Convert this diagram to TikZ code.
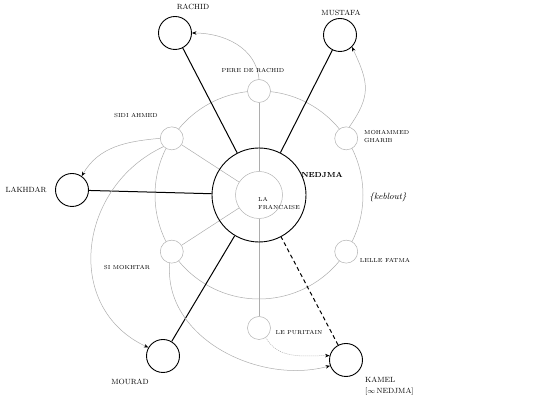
\documentclass[tikz,border=0pt]{standalone}
\usetikzlibrary{arrows.meta,calc}
\begin{document}
\begin{tikzpicture}[x=1pt,y=1pt,
  major/.style={circle,draw=black,line width=0.9pt,minimum size=33pt,inner sep=0pt},
  sat/.style={circle,draw=black!30,line width=0.5pt,fill=white,minimum size=23pt,inner sep=0pt},
  link/.style={line width=1pt},
  thinline/.style={draw=black!32,line width=0.5pt},
  arr/.style={thinline,-{Stealth[length=4.5pt,width=3.5pt,black]}},
  lab/.style={font=\fontsize{7.5}{8}\selectfont,inner sep=0pt},
  slab/.style={font=\fontsize{5.8}{8.5}\selectfont,inner sep=0pt,align=left},
]
\useasboundingbox (0,0) rectangle (550,-411);
% centre
\coordinate (c) at (259,-195);
\draw[thinline] (c) circle[radius=104pt];
\node[circle,draw=black!30,line width=0.5pt,minimum size=47pt,inner sep=0pt] (fr) at (c) {};
% satellites
\node[sat] (pdr) at ($(c)+(90:104)$) {};
\node[sat] (sa) at ($(c)+(147:104)$) {};
\node[sat] (mg) at ($(c)+(33:104)$) {};
\node[sat] (lf) at ($(c)+(-33:104)$) {};
\node[sat] (sm) at ($(c)+(-147:104)$) {};
\node[sat] (lp) at (259,-328) {};
% spokes
\draw[thinline] (fr) -- (pdr);
\draw[thinline] (fr) -- (sa);
\draw[thinline] (fr) -- (sm);
\draw[thinline] (fr) -- (lp);
% Nedjma
\node[circle,draw=black,line width=0.9pt,minimum size=94pt,inner sep=0pt] (nedjma) at (c) {};
% outer characters
\node[major] (rachid) at (175,-33) {};
\node[major] (mustafa) at (340,-35) {};
\node[major] (lakhdar) at (72,-190) {};
\node[major] (mourad) at (163,-356) {};
\node[major] (kamel) at (346,-360) {};
% thick links
\draw[link] (rachid) -- (nedjma);
\draw[link] (mustafa) -- (nedjma);
\draw[link] (lakhdar) -- (nedjma);
\draw[link] (mourad) -- (nedjma);
\draw[link,dash pattern=on 4pt off 3pt] (kamel) -- (nedjma);
% curved arrows
\draw[arr] (pdr.north) to[out=95,in=0] (rachid.east);
\draw[arr] (mg.75) to[out=55,in=-65,looseness=1.25] (mustafa.-45);
\draw[arr] (sa.west) to[out=185,in=60] (lakhdar.55);
\draw[arr] (sa.225) to[out=205,in=155,looseness=1.2] (mourad.150);
\draw[arr] (sm.-100) to[out=-95,in=195] (kamel.200);
\draw[arr,dash pattern=on 1pt off 1pt] (lp.-55) to[out=-60,in=180] (kamel.165);
% labels
\node[lab] (lrachid) at (193,-7) {RACHID};
\node[lab] (lmustafa) at (341,-13) {MUSTAFA};
\node[lab,anchor=center] (llakhdar) at (26,-190) {LAKHDAR};
\node[lab] (lmourad) at (130,-382) {MOURAD};
\node[lab,anchor=north west,align=left,font=\fontsize{7.5}{11}\selectfont] (lkamel) at (365,-377) {KAMEL\\{[}$\infty$\,NEDJMA{]}};
\node[slab] (lpdr) at (253,-70) {PERE DE RACHID};
\node[slab] (lsa) at (136,-115) {SIDI AHMED};
\node[slab,anchor=west] (lmg) at (364,-136.5) {MOHAMMED\\GHARIB};
\node[slab] (llf) at (385,-260) {LELLE FATMA};
\node[slab] (lsm) at (127,-267) {SI MOKHTAR};
\node[slab] (llp) at (299,-332) {LE PURITAIN};
\node[slab,anchor=west] (lfr) at (258,-203.5) {LA\\FRANCAISE};
\node[inner sep=0pt,font=\fontsize{7.3}{8}\selectfont\bfseries] (lnedjma) at (322,-175) {NEDJMA};
\node[inner sep=0pt,font=\fontsize{9}{10}\selectfont\itshape] (lkeb) at (388,-197) {\{keblout\}};
\end{tikzpicture}
\end{document}
